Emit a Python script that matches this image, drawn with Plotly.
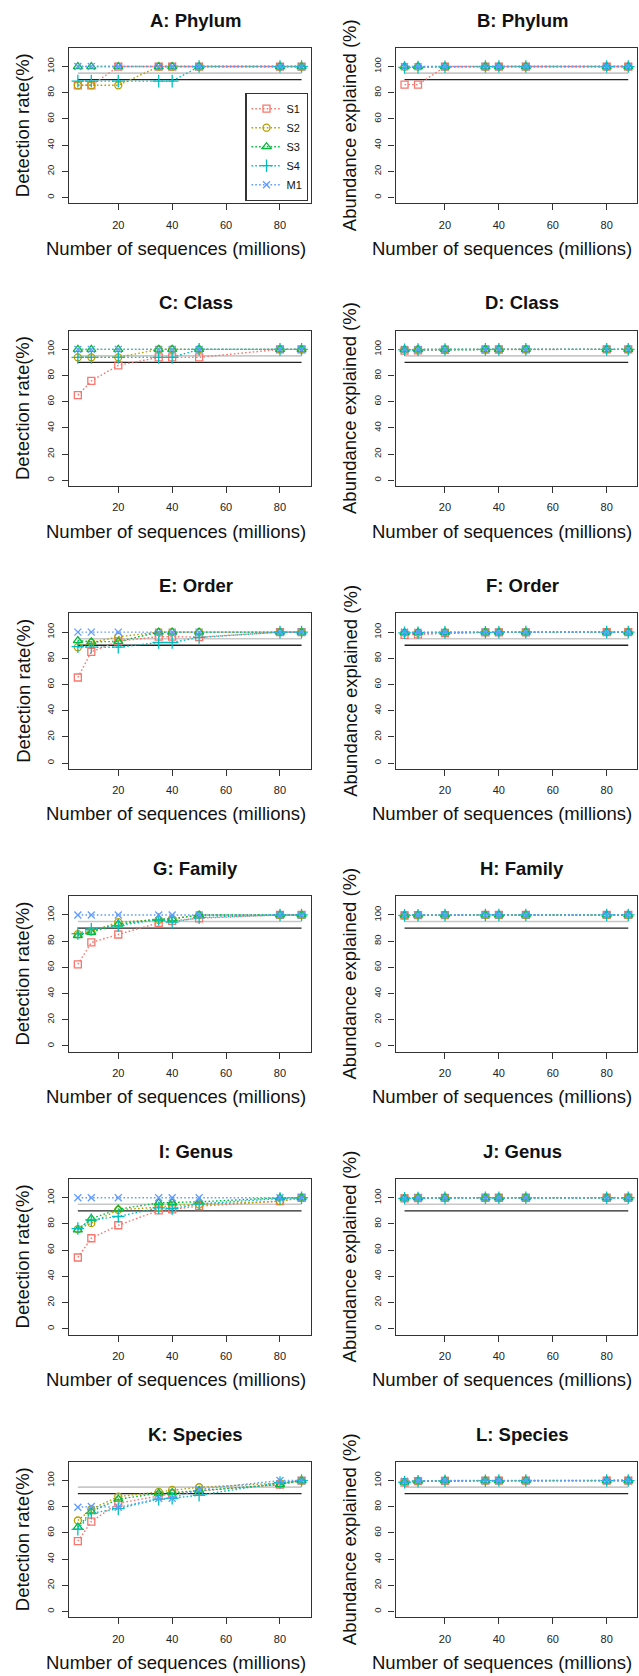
import plotly.graph_objects as go

# ---------------- data ----------------
SEQ_MILLIONS = [5, 10, 20, 35, 40, 50, 80, 88]
SAMPLES = ["S1", "S2", "S3", "S4", "M1"]
THRESH_BLACK = [90, 90]
THRESH_GRAY = [95, 95]
THRESH_X = [5, 88]

X_TICKS = [20, 40, 60, 80]
Y_TICKS = [0, 20, 40, 60, 80, 100]

TITLES = ["A: Phylum", "B: Phylum", "C: Class", "D: Class", "E: Order", "F: Order",
          "G: Family", "H: Family", "I: Genus", "J: Genus", "K: Species", "L: Species"]
YLAB_LEFT = "Detection rate(%)"
YLAB_RIGHT = "Abundance explained (%)"
XLAB = "Number of sequences (millions)"

A_phylum_detect = {
    "S1": [85.7, 85.7, 100, 100, 100, 100, 100, 100],
    "S2": [85.7, 85.7, 85.7, 100, 100, 100, 100, 100],
    "S3": [100, 100, 100, 100, 100, 100, 100, 100],
    "S4": [88.9, 88.9, 88.9, 88.9, 88.9, 100, 100, 100],
    "M1": [100, 100, 100, 100, 100, 100, 100, 100],
}
B_phylum_abund = {
    "S1": [86.2, 86.2, 100, 100, 100, 100, 100, 100],
    "S2": [99.8, 99.9, 100, 100, 100, 100, 100, 100],
    "S3": [100, 100, 100, 100, 100, 100, 100, 100],
    "S4": [99.4, 99.6, 99.9, 100, 100, 100, 100, 100],
    "M1": [99.9, 99.9, 100, 100, 100, 100, 100, 100],
}
C_class_detect = {
    "S1": [65.0, 75.9, 87.8, 93.9, 93.9, 93.9, 100, 100],
    "S2": [93.9, 93.9, 93.9, 100, 100, 100, 100, 100],
    "S3": [100, 100, 100, 100, 100, 100, 100, 100],
    "S4": [93.9, 93.9, 93.9, 93.9, 93.9, 100, 100, 100],
    "M1": [100, 100, 100, 100, 100, 100, 100, 100],
}
D_class_abund = {
    "S1": [99.0, 99.3, 99.7, 99.9, 99.9, 100, 100, 100],
    "S2": [99.8, 99.9, 100, 100, 100, 100, 100, 100],
    "S3": [99.8, 99.9, 100, 100, 100, 100, 100, 100],
    "S4": [99.7, 99.8, 99.9, 100, 100, 100, 100, 100],
    "M1": [99.9, 100, 100, 100, 100, 100, 100, 100],
}
E_order_detect = {
    "S1": [65.4, 85.0, 93.0, 96.6, 96.6, 96.2, 100, 100],
    "S2": [88.5, 92.0, 96.5, 100, 100, 100, 100, 100],
    "S3": [93.6, 92.6, 92.9, 100, 100, 100, 100, 100],
    "S4": [88.9, 88.5, 88.5, 92.1, 92.1, 96.0, 100, 100],
    "M1": [100, 100, 100, 100, 100, 100, 100, 100],
}
F_order_abund = {
    "S1": [98.0, 98.3, 99.2, 99.8, 99.8, 99.9, 100, 100],
    "S2": [99.6, 99.7, 99.9, 100, 100, 100, 100, 100],
    "S3": [99.7, 99.8, 99.9, 100, 100, 100, 100, 100],
    "S4": [99.5, 99.6, 99.8, 99.9, 99.9, 100, 100, 100],
    "M1": [99.9, 99.9, 100, 100, 100, 100, 100, 100],
}
G_family_detect = {
    "S1": [62.3, 79.0, 85.1, 94.0, 95.5, 97.5, 100, 100],
    "S2": [85.3, 87.4, 94.5, 96.3, 97.0, 100, 100, 100],
    "S3": [84.3, 86.8, 93.0, 97.0, 97.0, 100, 100, 100],
    "S4": [85.8, 89.1, 91.9, 96.5, 94.5, 98.0, 100, 100],
    "M1": [100, 100, 100, 100, 100, 100, 100, 100],
}
H_family_abund = {
    "S1": [99.6, 99.8, 99.9, 100, 100, 100, 100, 100],
    "S2": [99.8, 99.9, 100, 100, 100, 100, 100, 100],
    "S3": [99.8, 99.9, 100, 100, 100, 100, 100, 100],
    "S4": [99.7, 99.8, 99.9, 100, 100, 100, 100, 100],
    "M1": [99.9, 100, 100, 100, 100, 100, 100, 100],
}
I_genus_detect = {
    "S1": [54.4, 69.1, 79.0, 90.3, 91.2, 93.6, 97.4, 100],
    "S2": [76.0, 80.6, 90.8, 92.8, 94.3, 94.8, 97.4, 100],
    "S3": [75.5, 84.1, 91.3, 96.1, 96.4, 96.9, 100, 100],
    "S4": [76.5, 83.1, 85.7, 92.3, 91.8, 95.3, 99.4, 100],
    "M1": [100, 100, 100, 100, 100, 100, 100, 100],
}
J_genus_abund = {
    "S1": [99.6, 99.8, 99.9, 100, 100, 100, 100, 100],
    "S2": [99.7, 99.9, 100, 100, 100, 100, 100, 100],
    "S3": [99.7, 99.9, 100, 100, 100, 100, 100, 100],
    "S4": [99.6, 99.8, 99.9, 100, 100, 100, 100, 100],
    "M1": [99.9, 100, 100, 100, 100, 100, 100, 100],
}
K_species_detect = {
    "S1": [53.7, 68.7, 82.7, 88.5, 90.0, 92.0, 97.0, 100],
    "S2": [69.5, 78.1, 87.8, 91.3, 92.9, 94.9, 98.0, 100],
    "S3": [64.4, 76.3, 85.8, 90.3, 90.8, 92.4, 97.0, 100],
    "S4": [62.8, 75.0, 78.6, 85.8, 86.5, 88.8, 98.5, 100],
    "M1": [79.6, 80.2, 79.6, 86.3, 86.5, 93.4, 100, 100],
}
L_species_abund = {
    "S1": [98.5, 99.5, 99.8, 100, 100, 100, 100, 100],
    "S2": [99.0, 99.7, 99.9, 100, 100, 100, 100, 100],
    "S3": [98.8, 99.6, 99.9, 100, 100, 100, 100, 100],
    "S4": [98.7, 99.5, 99.8, 99.9, 100, 100, 100, 100],
    "M1": [99.5, 99.8, 100, 100, 100, 100, 100, 100],
}

PANELS = [A_phylum_detect, B_phylum_abund, C_class_detect, D_class_abund,
          E_order_detect, F_order_abund, G_family_detect, H_family_abund,
          I_genus_detect, J_genus_abund, K_species_detect, L_species_abund]

# ---------------- style ----------------
COLORS = {"S1": "#F8766D", "S2": "#B79F00", "S3": "#00BA38", "S4": "#00BFC4", "M1": "#619CFF"}
SYMBOLS = {"S1": "square-open", "S2": "circle-open", "S3": "triangle-up-open",
           "S4": "cross-thin-open", "M1": "x-thin-open"}
SIZES = {"S1": 7, "S2": 7, "S3": 8, "S4": 9, "M1": 7}
FONT = "Liberation Sans, Arial, Helvetica, sans-serif"

W, H = 639, 1676
ROW_STEP = 282.8
BOX_TOP0 = 47.7
BOX_H = 155.6
COL_X = [(68.9, 310.5), (395.6, 637.2)]


def fx(px):
    return px / W


def fy(py):
    return 1 - py / H


fig = go.Figure()
annotations = []
layout_axes = {}

for i, data in enumerate(PANELS):
    row, col = divmod(i, 2)
    n = i + 1
    xa = "x" if n == 1 else f"x{n}"
    ya = "y" if n == 1 else f"y{n}"
    top = BOX_TOP0 + ROW_STEP * row
    bot = top + BOX_H
    x0, x1 = COL_X[col]

    # reference lines
    fig.add_trace(go.Scatter(x=THRESH_X, y=THRESH_GRAY, mode="lines",
                             line=dict(color="#c8c8c8", width=1.6),
                             showlegend=False, hoverinfo="skip", xaxis=xa, yaxis=ya))
    fig.add_trace(go.Scatter(x=THRESH_X, y=THRESH_BLACK, mode="lines",
                             line=dict(color="#222222", width=1.3),
                             showlegend=False, hoverinfo="skip", xaxis=xa, yaxis=ya))
    for s in SAMPLES:
        fig.add_trace(go.Scatter(
            x=SEQ_MILLIONS, y=data[s], mode="lines+markers", name=s,
            line=dict(color=COLORS[s], width=1.4, dash="1.6px,2.2px"),
            marker=dict(symbol=SYMBOLS[s], size=SIZES[s], color=COLORS[s],
                        line=dict(color=COLORS[s], width=1.3)),
            showlegend=(i == 0), legendgroup=s, xaxis=xa, yaxis=ya))

    key_x = "xaxis" if n == 1 else f"xaxis{n}"
    key_y = "yaxis" if n == 1 else f"yaxis{n}"
    layout_axes[key_x] = dict(
        domain=[fx(x0), fx(x1)], anchor=ya, range=[1.68, 91.32],
        tickmode="array", tickvals=X_TICKS, ticks="outside", ticklen=6,
        tickwidth=1, tickcolor="#333", showline=True, linecolor="#333",
        linewidth=1.3, mirror=True, showgrid=False, zeroline=False,
        tickfont=dict(family=FONT, size=11, color="#222"), ticklabelstandoff=5)
    layout_axes[key_y] = dict(
        domain=[fy(bot), fy(top)], anchor=xa, range=[-4.4, 114.4],
        tickmode="array", tickvals=Y_TICKS, ticks="outside", ticklen=6,
        tickwidth=1, tickcolor="#333", showline=True, linecolor="#333",
        linewidth=1.3, mirror=True, showgrid=False, zeroline=False,
        tickangle=-90, tickfont=dict(family=FONT, size=9.5, color="#222"),
        ticklabelstandoff=4)

    cx = (x0 + x1) / 2
    annotations.append(dict(text=f"<b>{TITLES[i]}</b>", x=fx(cx + 6), y=fy(20 + ROW_STEP * row),
                            xref="paper", yref="paper", xanchor="center", yanchor="middle",
                            showarrow=False, font=dict(family=FONT, size=18.5, color="#111")))
    annotations.append(dict(text=XLAB, x=fx(cx - 14), y=fy(248.3 + ROW_STEP * row),
                            xref="paper", yref="paper", xanchor="center", yanchor="middle",
                            showarrow=False, font=dict(family=FONT, size=18.5, color="#111")))
    ylx = 22.7 if col == 0 else 349.7
    annotations.append(dict(text=YLAB_LEFT if col == 0 else YLAB_RIGHT, x=fx(ylx),
                            y=fy((top + bot) / 2), xref="paper", yref="paper",
                            xanchor="center", yanchor="middle", textangle=-90,
                            showarrow=False, font=dict(family=FONT, size=18.5, color="#111")))

fig.update_layout(
    width=W, height=H, autosize=False,
    margin=dict(l=0, r=0, t=0, b=0, pad=0),
    paper_bgcolor="white", plot_bgcolor="white",
    annotations=annotations,
    legend=dict(x=fx(308.3), y=fy(201), xanchor="right", yanchor="bottom",
                xref="paper", yref="paper",
                bgcolor="white", bordercolor="#333", borderwidth=1.2,
                font=dict(family=FONT, size=11, color="#111"), itemwidth=30,
                tracegroupgap=0),
    font=dict(family=FONT),
    **layout_axes,
)

fig.write_html("out.html", config={"displayModeBar": False},
               post_script="document.body.style.margin='0';")
